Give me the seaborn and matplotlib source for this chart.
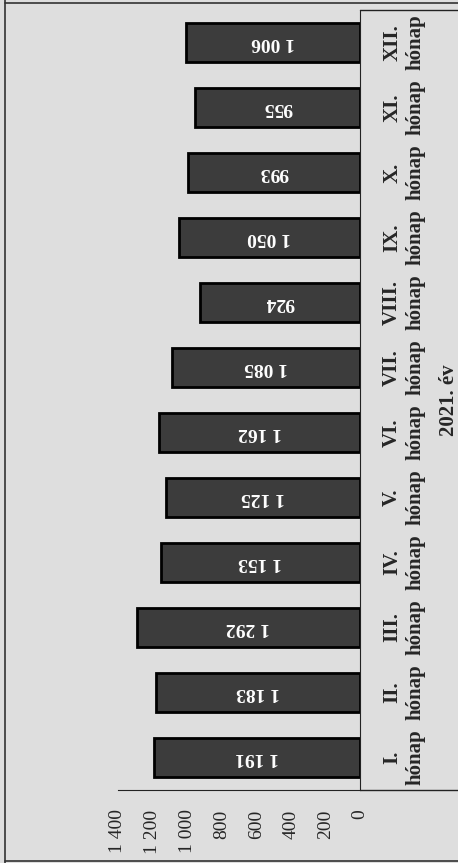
import pandas as pd
import numpy as np
import seaborn as sns
import matplotlib.pyplot as plt
from matplotlib.lines import Line2D

# data read from the (rotated, scanned) chart
honap = ['I.', 'II.', 'III.', 'IV.', 'V.', 'VI.', 'VII.', 'VIII.', 'IX.', 'X.', 'XI.', 'XII.']
ertek = [1191, 1183, 1292, 1153, 1125, 1162, 1085, 924, 1050, 993, 955, 1006]
tick_vals = [0, 200, 400, 600, 800, 1000, 1200, 1400]
tick_txt = ['0', '200', '400', '600', '800', '1 000', '1 200', '1 400']
ev_cimke = '2021. év'

df = pd.DataFrame({'honap': honap, 'ertek': ertek})

sns.set_style('white')
plt.rcParams['font.family'] = ['Liberation Serif', 'DejaVu Serif']

bg = '#dedede'
fig = plt.figure(figsize=(4.58, 8.63), dpi=100, facecolor=bg)
ax = fig.add_axes([118 / 458, 73 / 863, 242 / 458, 780 / 863])
ax.set_facecolor(bg)

sns.barplot(data=df, x='ertek', y='honap', orient='h', color='#3c3c3c',
            saturation=1, width=0.6, edgecolor='#000000', linewidth=2, ax=ax)

# whole chart is turned 90 degrees: values grow to the left, month I at the bottom
ax.set_xlim(1400, 0)
ax.set_ylim(-0.5, 11.5)

ax.bar_label(ax.containers[0], labels=[f'{v:,}'.replace(',', ' ') for v in ertek],
             label_type='center', rotation=180, color='white',
             fontweight='bold', fontsize=14)

ax.set_xticks(tick_vals)
ax.set_xticklabels(tick_txt, rotation=90, fontsize=14, va='top')
ax.tick_params(axis='x', direction='in', length=5, pad=14, color='#222222')

ax.yaxis.tick_right()
ax.set_yticks(range(len(honap)))
ax.set_yticklabels([h + '\nhónap' for h in honap], rotation=90, va='center', ha='left',
                   multialignment='center', fontsize=15, fontweight='bold')
ax.tick_params(axis='y', length=0, pad=16)

ax.yaxis.set_label_position('right')
ax.set_ylabel(ev_cimke, rotation=90, fontsize=15, fontweight='bold', labelpad=10)
ax.set_xlabel('')

for s in ['top', 'left']:
    ax.spines[s].set_visible(False)
ax.spines['right'].set_color('#222222')
ax.spines['bottom'].set_color('#222222')

# frame lines of the scanned chart
ln = dict(color='#222222', lw=1)
fig.add_artist(Line2D([360 / 458, 1], [1 - 10 / 863, 1 - 10 / 863], **ln))
fig.add_artist(Line2D([360 / 458, 1], [73 / 863, 73 / 863], **ln))
fig.add_artist(Line2D([5 / 458, 5 / 458], [0, 1], color='#333333', lw=1.2))
fig.add_artist(Line2D([5 / 458, 1], [1 - 3 / 863, 1 - 3 / 863], color='#333333', lw=1.2))
fig.add_artist(Line2D([5 / 458, 1], [2 / 863, 2 / 863], color='#333333', lw=1.2))

plt.savefig('out.png', dpi=100, facecolor=bg)
